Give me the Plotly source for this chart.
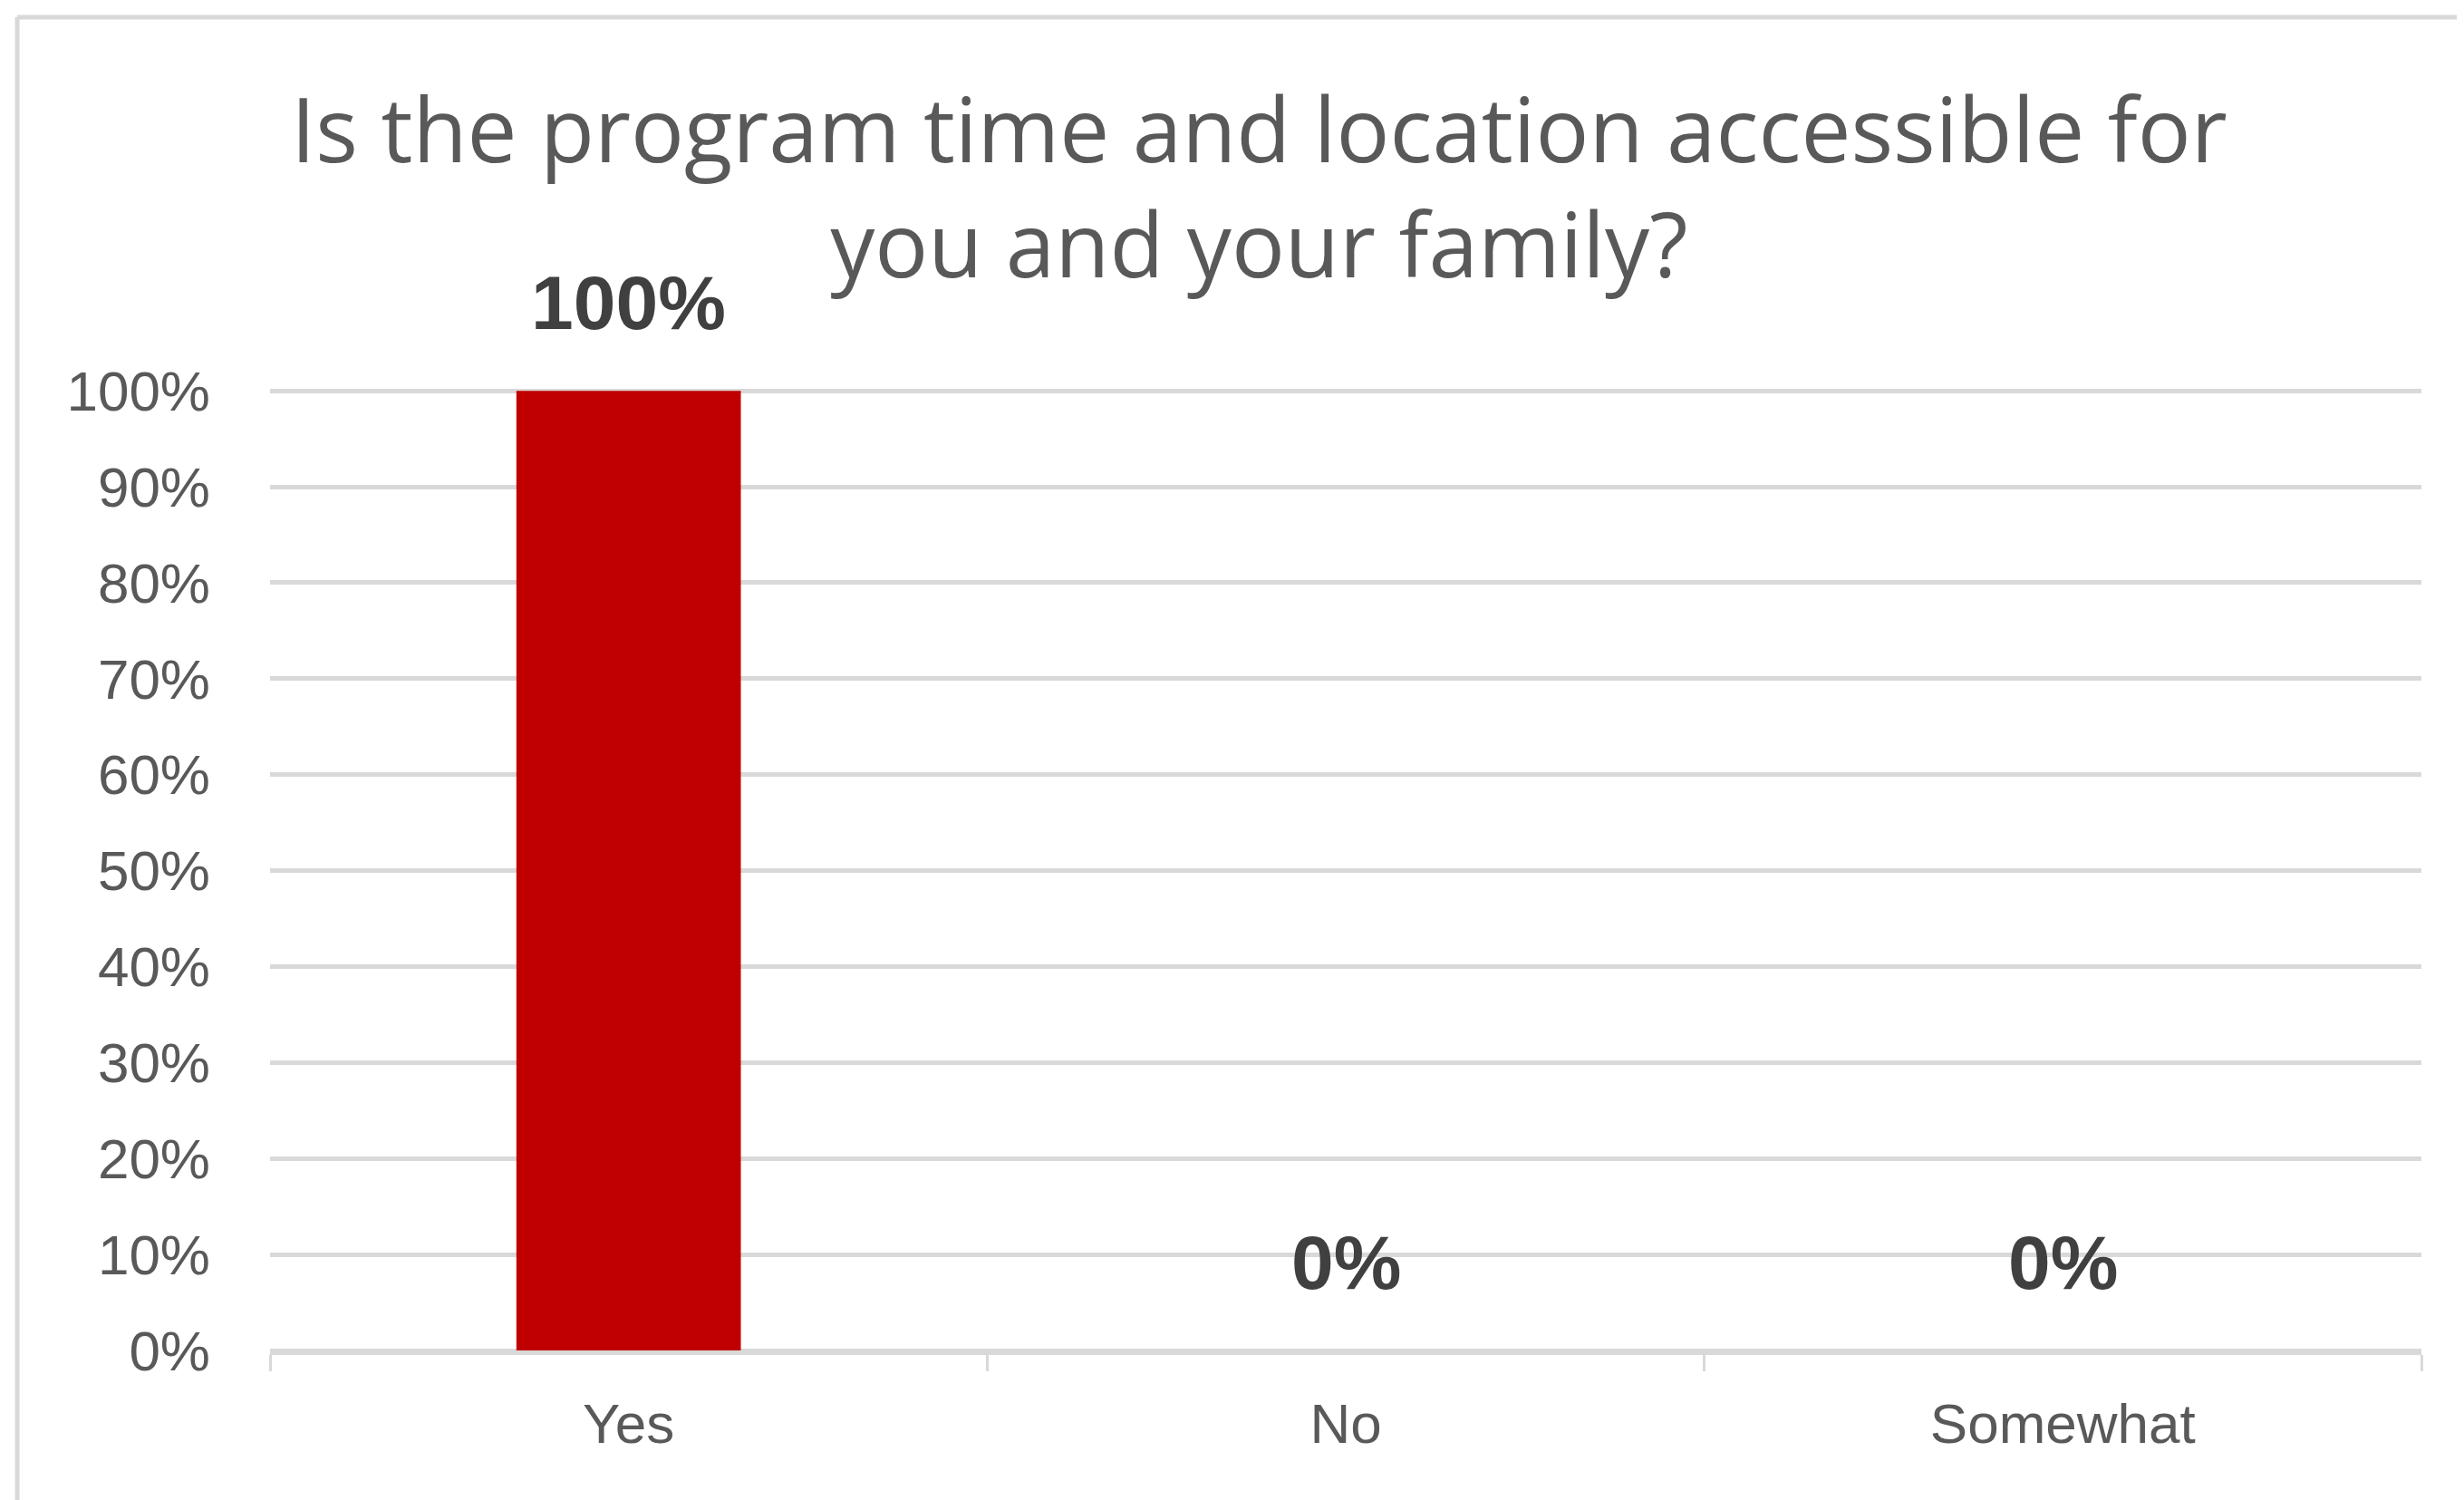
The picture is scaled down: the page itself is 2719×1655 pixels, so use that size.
import plotly.graph_objects as go

categories = ["Yes", "No", "Somewhat"]
values = [1.0, 0.0, 0.0]
value_labels = ["100%", "0%", "0%"]
title_lines = ["Is the program time and location accessible for", "you and your family?"]

W, H = 2719, 1655
OFF = 8  # default page body margin
L, R, T, B = 298 - OFF, 47 + OFF, 428 - OFF, 165 + OFF
PW, PH = W - L - R, H - T - B

fig = go.Figure()
fig.add_trace(go.Bar(
    x=categories, y=values,
    marker=dict(color="#C00000", line=dict(width=0)),
    width=0.313,
    hoverinfo="skip",
))

for c, v, t in zip(categories, values, value_labels):
    fig.add_annotation(
        x=c, y=v, text="<b>%s</b>" % t, showarrow=False,
        yanchor="bottom", yshift=48,
        font=dict(family="Liberation Sans", size=84, color="#404040"),
    )

# title as annotation (two lines)
fig.add_annotation(
    xref="paper", yref="paper",
    x=(1389 - OFF - L) / PW, y=1 + (T - (205 - OFF)) / PH,
    xanchor="center", yanchor="middle",
    text="<br>".join(title_lines), showarrow=False,
    font=dict(family="Open Sans", size=98, color="#595959"),
)

# light border (top and left edges only)
top_y = 1 + (T - (19 - OFF)) / PH
left_x = ((19 - OFF) - L) / PW
fig.add_shape(type="line", xref="paper", yref="paper",
              x0=left_x, x1=(W + 20 - L) / PW, y0=top_y, y1=top_y,
              line=dict(color="#d9d9d9", width=5), layer="below")
fig.add_shape(type="line", xref="paper", yref="paper",
              x0=left_x, x1=left_x, y0=top_y, y1=-(B + 20) / PH,
              line=dict(color="#d9d9d9", width=5), layer="below")

fig.update_layout(
    width=W, height=H,
    margin=dict(l=L, r=R, t=T, b=B, pad=0, autoexpand=False),
    paper_bgcolor="#ffffff",
    plot_bgcolor="rgba(0,0,0,0)",
    showlegend=False,
    xaxis=dict(
        type="category",
        automargin=False,
        showgrid=False,
        showline=True, linecolor="#d9d9d9", linewidth=5,
        ticks="outside", tickson="boundaries", ticklen=18,
        tickcolor="#d9d9d9", tickwidth=3,
        ticklabelstandoff=23,
        tickfont=dict(family="Liberation Sans", size=62, color="#595959"),
    ),
    yaxis=dict(
        automargin=False,
        range=[0, 1.003],
        tickvals=[i / 10 for i in range(11)],
        tickformat=".0%",
        showgrid=True, gridcolor="#d9d9d9", gridwidth=5,
        zeroline=True, zerolinecolor="#d9d9d9", zerolinewidth=5,
        showline=False, ticks="",
        ticklabelstandoff=65,
        tickfont=dict(family="Liberation Sans", size=62, color="#595959"),
    ),
    bargap=0.687,
)

fig.write_html("out.html")
